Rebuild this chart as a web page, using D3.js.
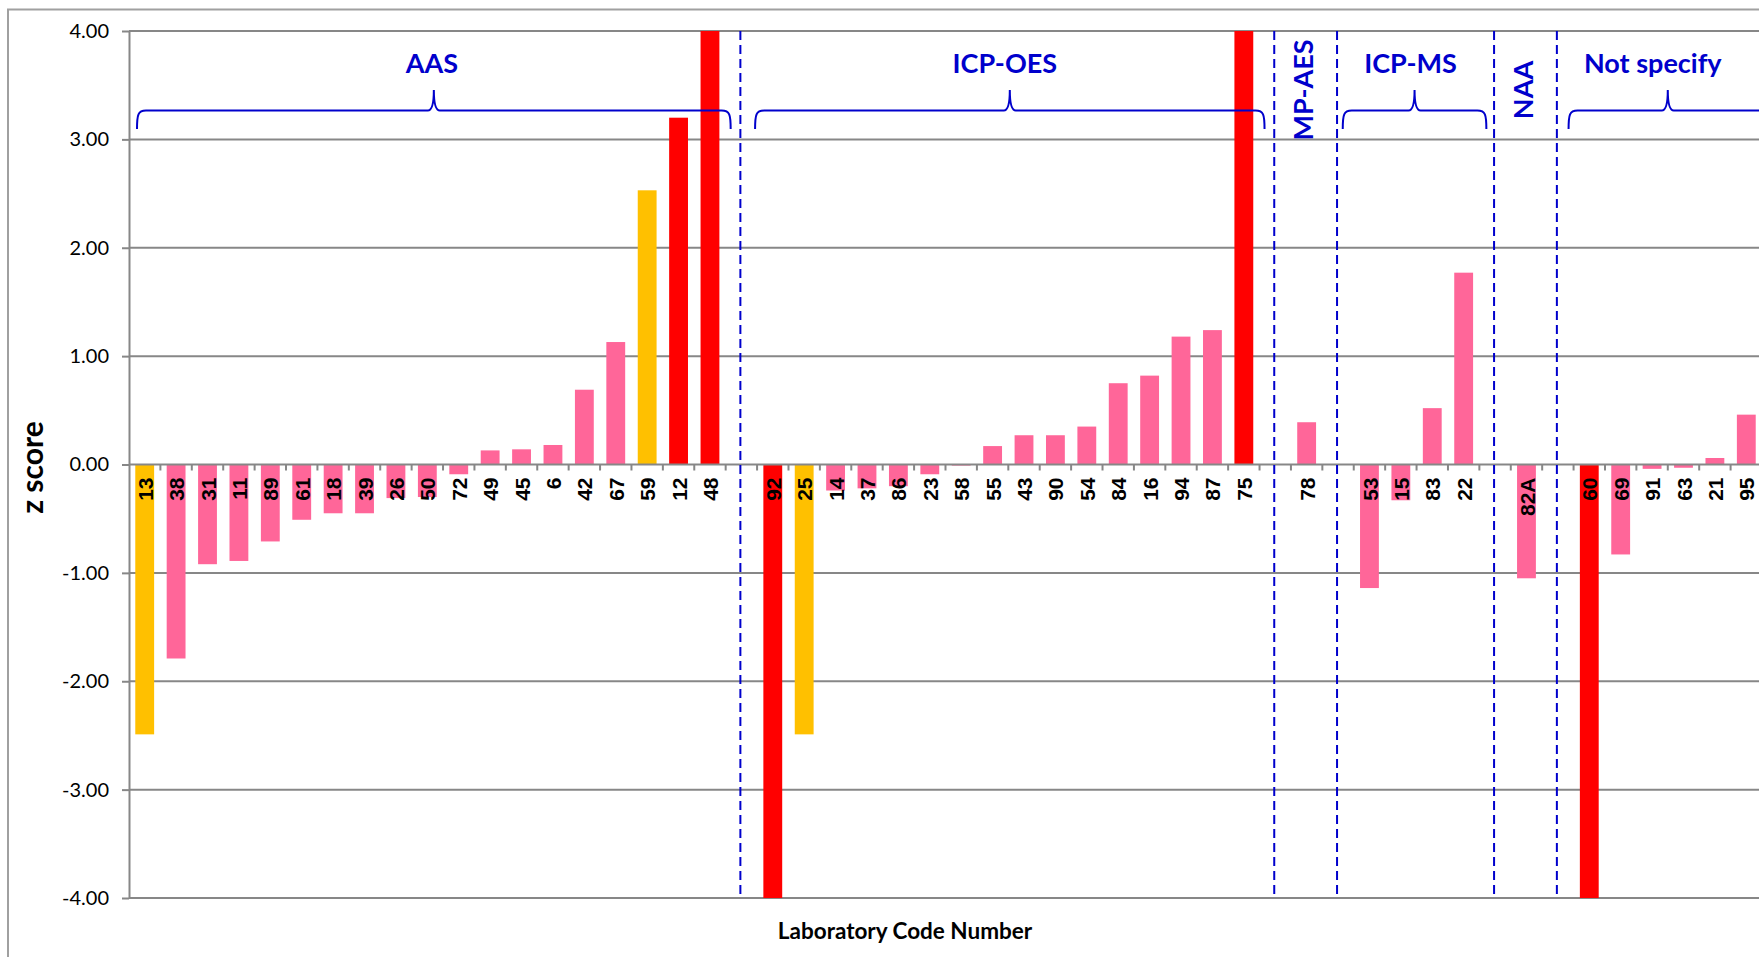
<!DOCTYPE html>
<html><head><meta charset="utf-8">
<script src="https://cdn.jsdelivr.net/npm/d3@7"></script>
<style>body{margin:0;background:#fff;overflow:hidden} svg{display:block}</style>
</head><body>
<svg id="chart" width="1759" height="957"></svg>
<script>
// ---------------- data ----------------
const groupNames = ["AAS", "ICP-OES", "MP-AES", "ICP-MS", "NAA", "Not specify"];
const aasLabs = ["13","38","31","11","89","61","18","39","26","50","72","49","45","6","42","67","59","12","48"];
const aasZ    = [-2.49,-1.79,-0.92,-0.89,-0.71,-0.51,-0.45,-0.45,-0.31,-0.30,-0.09,0.13,0.14,0.18,0.69,1.13,2.53,3.20,4.00];
const icpOesLabs = ["92","25","14","37","86","23","58","55","43","90","54","84","16","94","87","75"];
const icpOesZ    = [-4.00,-2.49,-0.24,-0.22,-0.20,-0.09,-0.01,0.17,0.27,0.27,0.35,0.75,0.82,1.18,1.24,4.00];
const mpAesLabs = ["78"];
const mpAesZ    = [0.39];
const icpMsLabs = ["53","15","83","22"];
const icpMsZ    = [-1.14,-0.33,0.52,1.77];
const naaLabs = ["82A"];
const naaZ    = [-1.05];
const notSpecLabs = ["60","69","91","63","21","95"];
const notSpecZ    = [-4.00,-0.83,-0.04,-0.03,0.06,0.46];
const yTicks      = [-4, -3, -2, -1, 0, 1, 2, 3, 4];
const yTickLabels = ["-4.00","-3.00","-2.00","-1.00","0.00","1.00","2.00","3.00","4.00"];
const yTitle = "z score";
const xTitle = "Laboratory Code Number";

(function () {
// ---------------- build slots ----------------
const groupLabs = [aasLabs, icpOesLabs, mpAesLabs, icpMsLabs, naaLabs, notSpecLabs];
const groupZ    = [aasZ, icpOesZ, mpAesZ, icpMsZ, naaZ, notSpecZ];
const slots = [], groups = [], separators = [];
groupLabs.forEach((labs, g) => {
  const start = slots.length;
  labs.forEach((lab, i) => slots.push({id: "s" + slots.length, lab, z: groupZ[g][i]}));
  groups.push({name: groupNames[g], start, end: slots.length - 1});
  if (g < groupLabs.length - 1) {
    separators.push("s" + slots.length);
    slots.push({id: "s" + slots.length, lab: null});
  }
});
const bars = slots.filter(d => d.lab !== null);

// ---------------- layout ----------------
const W = 1759;
const svg = d3.select("#chart");
const pL = 129, pR = 1762, pT = 31, pB = 898;
const x = d3.scaleBand().domain(slots.map(d => d.id)).range([pL, pR])
  .paddingInner(0.4).paddingOuter(0.2);
const y = d3.scaleLinear().domain([-4, 4]).range([pB, pT]);
const step = x.step();
const slotLeft = id => x(id) - (step - x.bandwidth()) / 2;
const cx = id => x(id) + x.bandwidth() / 2;

const gridColor = "#878787";
const blue = "#0000CC";
const colorOf = z => Math.abs(z) >= 3 ? "#FF0000" : (Math.abs(z) > 2 ? "#FFC000" : "#FF6699");
const calibri = "Lato, 'Open Sans', sans-serif";

// outer border
svg.append("rect").attr("x", 8).attr("y", 9.5).attr("width", 2000).attr("height", 2000)
  .attr("fill", "none").attr("stroke", "#a0a0a0").attr("stroke-width", 2);

// gridlines
svg.append("g").selectAll("line").data(yTicks.filter(t => t !== 0)).join("line")
  .attr("x1", pL).attr("x2", W + 10)
  .attr("y1", d => y(d)).attr("y2", d => y(d))
  .attr("stroke", gridColor).attr("stroke-width", 2);

// y axis
const yAxis = svg.append("g").attr("transform", `translate(${pL},0)`)
  .call(d3.axisLeft(y).tickValues(yTicks).tickFormat((d, i) => yTickLabels[i]).tickSize(7).tickSizeOuter(0).tickPadding(13));
yAxis.select(".domain").attr("stroke", gridColor).attr("stroke-width", 2);
yAxis.selectAll(".tick line").attr("stroke", gridColor).attr("stroke-width", 2);
yAxis.selectAll(".tick text").attr("font-family", calibri).attr("font-size", 20).attr("fill", "#000");

// bars
svg.append("g").selectAll("rect").data(bars).join("rect")
  .attr("x", d => x(d.id)).attr("width", x.bandwidth())
  .attr("y", d => y(Math.max(0, Math.min(4, d.z))))
  .attr("height", d => Math.abs(y(Math.max(-4, Math.min(4, d.z))) - y(0)))
  .attr("fill", d => colorOf(d.z));

// zero axis line + category boundary ticks
svg.append("line").attr("x1", pL).attr("x2", W + 10).attr("y1", y(0)).attr("y2", y(0))
  .attr("stroke", gridColor).attr("stroke-width", 2);
svg.append("g").selectAll("line").data(slots.slice(1)).join("line")
  .attr("x1", d => slotLeft(d.id)).attr("x2", d => slotLeft(d.id))
  .attr("y1", y(0)).attr("y2", y(0) + 6)
  .attr("stroke", gridColor).attr("stroke-width", 2);

// bar labels
svg.append("g").selectAll("text").data(bars).join("text")
  .attr("transform", d => `translate(${cx(d.id) + 0.5},${y(0) + 13}) rotate(-90)`)
  .attr("text-anchor", "end").attr("dy", "0.36em")
  .attr("font-family", "'Liberation Sans Narrow', 'Arial Narrow', sans-serif").attr("font-weight", "bold")
  .attr("font-size", 21).attr("fill", "#000")
  .text(d => d.lab);

// separators
svg.append("g").selectAll("line").data(separators).join("line")
  .attr("x1", d => cx(d) - 1).attr("x2", d => cx(d) - 1)
  .attr("y1", pT).attr("y2", pB)
  .attr("stroke", blue).attr("stroke-width", 2).attr("stroke-dasharray", "9,5");

// braces + group labels
const braced = ["AAS", "ICP-OES", "ICP-MS", "Not specify"];
const labelDx = {"AAS": -2, "ICP-OES": -5, "ICP-MS": -4, "Not specify": -15};
const bracePad = {"AAS": [-4, 5], "ICP-OES": [-2, 5], "ICP-MS": [-11, 7], "Not specify": [-5, 5]};
const yLine = 110.5, yEnd = 129, yTip = 90;
groups.forEach(gr => {
  const a = slots[gr.start].id, b = slots[gr.end].id;
  if (braced.includes(gr.name)) {
    const x0 = Math.max(pL + 8, slotLeft(a) + bracePad[gr.name][0]);
    const x1 = slotLeft(b) + step + bracePad[gr.name][1];
    const xm = (x0 + x1) / 2;
    const p = d3.path();
    p.moveTo(x0, yEnd);
    p.bezierCurveTo(x0, yLine + 4, x0 + 1, yLine, x0 + 9, yLine);
    p.lineTo(xm - 6, yLine);
    p.quadraticCurveTo(xm, yLine, xm, yTip);
    p.quadraticCurveTo(xm, yLine, xm + 6, yLine);
    p.lineTo(x1 - 9, yLine);
    p.bezierCurveTo(x1 - 1, yLine, x1, yLine + 4, x1, yEnd);
    svg.append("path").attr("d", p.toString()).attr("fill", "none")
      .attr("stroke", blue).attr("stroke-width", 2);
    svg.append("text").attr("x", xm + labelDx[gr.name]).attr("y", 73)
      .attr("text-anchor", "middle").attr("font-family", calibri).attr("font-weight", "bold")
      .attr("font-size", 27).attr("fill", blue).text(gr.name);
  } else {
    svg.append("text").attr("transform", `translate(${cx(a) - 3},${90}) rotate(-90)`)
      .attr("text-anchor", "middle").attr("dy", "0.36em")
      .attr("font-family", calibri).attr("font-weight", "bold")
      .attr("font-size", 27).attr("fill", blue).text(gr.name);
  }
});

// axis titles
svg.append("text").attr("transform", `translate(43,${(pT + pB) / 2 + 3}) rotate(-90)`)
  .attr("text-anchor", "middle").attr("font-family", calibri).attr("font-weight", "bold")
  .attr("font-size", 30).attr("fill", "#000").text(yTitle);
svg.append("text").attr("x", 905).attr("y", 939).attr("text-anchor", "middle")
  .attr("font-family", calibri).attr("font-weight", "bold").attr("font-size", 22.5)
  .attr("fill", "#000").text(xTitle);
})();
</script>
</body></html>
